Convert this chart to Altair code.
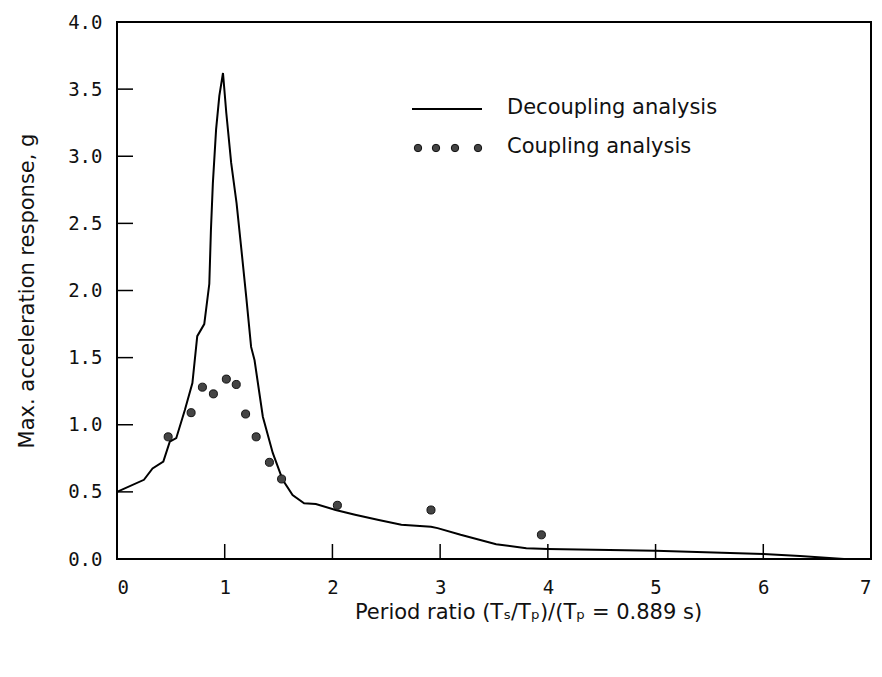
import altair as alt
import pandas as pd

# Decoupling analysis (solid line)
DEC_X = [0, 0.25, 0.33, 0.43, 0.49, 0.55, 0.63, 0.70, 0.745, 0.81, 0.857, 0.872, 0.89, 0.92,
         0.95, 0.984, 1.015, 1.06, 1.11, 1.153, 1.20, 1.245, 1.277, 1.354, 1.446, 1.538, 1.63,
         1.737, 1.846, 2.03, 2.21, 2.43, 2.64, 2.915, 2.976, 3.19, 3.52, 3.80, 4.0, 5.0,
         6.0, 6.34, 6.75]
DEC_Y = [0.50, 0.59, 0.675, 0.725, 0.874, 0.90, 1.11, 1.31, 1.66, 1.75, 2.05, 2.45, 2.80, 3.20,
         3.45, 3.62, 3.32, 2.95, 2.65, 2.32, 1.95, 1.58, 1.48, 1.06, 0.79, 0.59, 0.477,
         0.415, 0.41, 0.365, 0.33, 0.29, 0.255, 0.24, 0.23, 0.18, 0.11, 0.08, 0.075, 0.062,
         0.037, 0.022, 0.0]

# Coupling analysis (dots)
COUP_X = [0.475, 0.688, 0.793, 0.895, 1.015, 1.107, 1.194, 1.292, 1.415, 1.528, 2.046, 2.915, 3.94]
COUP_Y = [0.91, 1.09, 1.28, 1.23, 1.34, 1.30, 1.08, 0.91, 0.72, 0.596, 0.40, 0.365, 0.18]

X_TICKS = [0, 1, 2, 3, 4, 5, 6, 7]
Y_TICKS = [0.0, 0.5, 1.0, 1.5, 2.0, 2.5, 3.0, 3.5, 4.0]
X_INNER = [1, 2, 3, 4, 5, 6]
Y_INNER = [0.5, 1.0, 1.5, 2.0, 2.5, 3.0, 3.5]

LEGEND = ["Decoupling analysis", "Coupling analysis"]
X_TITLE = "Period ratio (Tₛ/Tₚ)/(Tₚ = 0.889 s)"
Y_TITLE = "Max. acceleration response, g"

W, H = 754, 537
MONO = "DejaVu Sans Mono"
SANS = "DejaVu Sans"

dec = pd.DataFrame({"x": DEC_X, "y": DEC_Y})
coup = pd.DataFrame({"x": COUP_X, "y": COUP_Y})
xt = pd.DataFrame({"x": X_INNER})
yt = pd.DataFrame({"y": Y_INNER})

xscale = alt.Scale(domain=[0, 7], nice=False, zero=False)
yscale = alt.Scale(domain=[0, 4], nice=False, zero=False)

xaxis = alt.Axis(values=X_TICKS, format="d", ticks=False, domain=False, grid=False,
                 labelFont=MONO, labelFontSize=19, labelColor="#111", labelPadding=19,
                 title=X_TITLE, titleFont=SANS, titleFontSize=21, titleFontWeight="normal",
                 titleColor="#111", titlePadding=4, titleX=411)
yaxis = alt.Axis(values=Y_TICKS, format=".1f", ticks=False, domain=False, grid=False,
                 labelFont=MONO, labelFontSize=19, labelColor="#111", labelPadding=15,
                 title=Y_TITLE, titleFont=SANS, titleFontSize=21, titleFontWeight="normal",
                 titleColor="#111", titlePadding=30)

line = alt.Chart(dec).mark_line(color="black", strokeWidth=2).encode(
    x=alt.X("x:Q", scale=xscale, axis=xaxis),
    y=alt.Y("y:Q", scale=yscale, axis=yaxis),
    order="x:Q",
)

pts = alt.Chart(coup).mark_point(filled=True, fill="#444", stroke="#111", strokeWidth=1,
                                 size=65, opacity=1).encode(
    x=alt.X("x:Q", scale=xscale),
    y=alt.Y("y:Q", scale=yscale),
)

xticks = alt.Chart(xt).mark_rule(color="black", strokeWidth=1.5).encode(
    x=alt.X("x:Q", scale=xscale),
    y=alt.value(H),
    y2=alt.value(H - 15),
)
yticks = alt.Chart(yt).mark_rule(color="black", strokeWidth=1.5).encode(
    y=alt.Y("y:Q", scale=yscale),
    x=alt.value(0),
    x2=alt.value(16),
)

one = alt.Data(values=[{"a": 1}])
leg_line = alt.Chart(one).mark_rule(color="black", strokeWidth=2).encode(
    x=alt.value(295), x2=alt.value(365), y=alt.value(87)
)
leg_dots = [
    alt.Chart(one).mark_point(filled=True, fill="#444", stroke="#111", strokeWidth=1,
                              size=55, opacity=1).encode(x=alt.value(px), y=alt.value(126))
    for px in [301, 319, 338, 361]
]
leg_t1 = alt.Chart(one).mark_text(text=LEGEND[0], font=SANS, fontSize=21, align="left",
                                  baseline="middle", color="#111").encode(
    x=alt.value(390), y=alt.value(86))
leg_t2 = alt.Chart(one).mark_text(text=LEGEND[1], font=SANS, fontSize=21, align="left",
                                  baseline="middle", color="#111").encode(
    x=alt.value(390), y=alt.value(125))

chart = alt.layer(line, pts, xticks, yticks, leg_line, *leg_dots, leg_t1, leg_t2).properties(
    width=W, height=H,
    autosize=alt.AutoSizeParams(type="none"),
    padding={"left": 117, "top": 22, "right": 11, "bottom": 118},
    background="white",
).configure_view(stroke="black", strokeWidth=2)

chart.save("out.html", embed_options={"renderer": "svg", "actions": False})
